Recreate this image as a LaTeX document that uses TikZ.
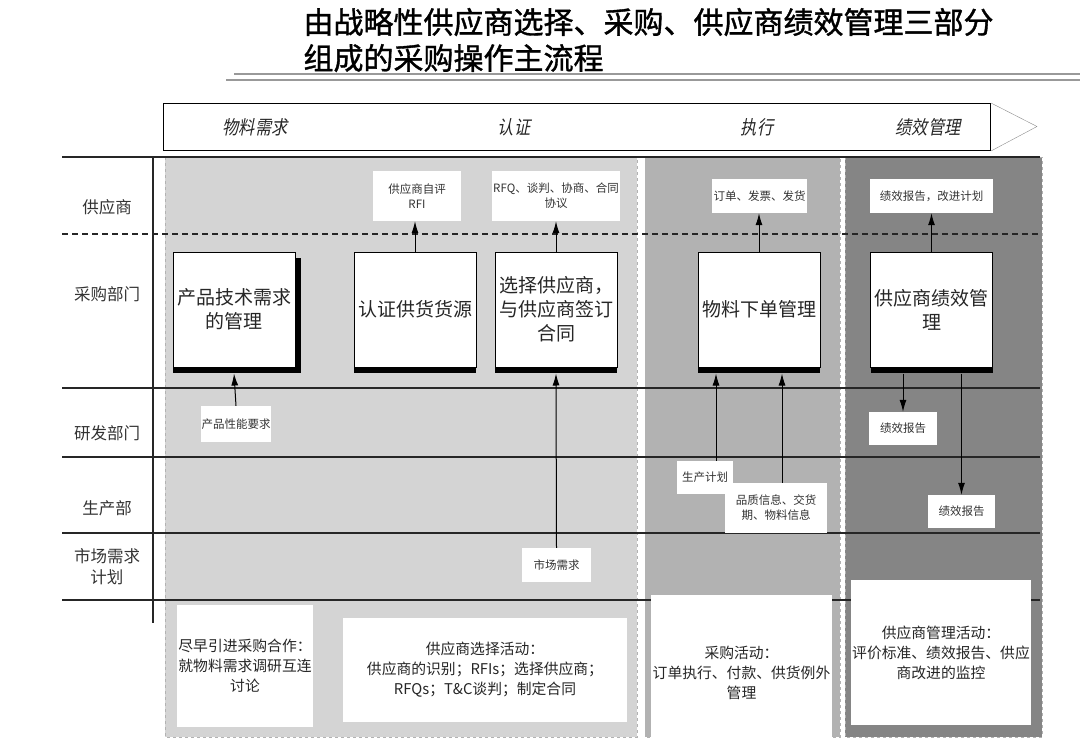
\documentclass[tikz,border=0pt]{standalone}
\usepackage{fontspec}
\setmainfont{Noto Sans CJK SC}
\newfontfamily\hdfont[FakeSlant=0.2,FakeStretch=0.85]{Noto Sans CJK SC}
\newfontfamily\titlefont[FakeBold=1.2]{Noto Sans CJK SC}
\usetikzlibrary{shadows,arrows.meta}

\begin{document}
\begin{tikzpicture}[x=1pt,y=-1pt,>={Latex[length=12pt,width=7pt]},
  proc/.style={draw,fill=white,line width=1pt,minimum width=122pt,minimum height=115pt,align=center,
    font=\fontsize{19}{24}\selectfont,text=black!85,
    drop shadow={shadow xshift=0pt,shadow yshift=-6pt,fill=black,opacity=1}},
  tag/.style={fill=white,inner sep=0pt,align=center,font=\fontsize{11.5}{15}\selectfont,text=black!80},
  note/.style={fill=white,inner sep=0pt,align=center,font=\fontsize{14.8}{20}\selectfont,text=black!85},
  lane/.style={align=center,font=\fontsize{16.5}{21}\selectfont,text=black!80},
  phase/.style={font=\hdfont\fontsize{19}{22}\selectfont,text=black!85},
  grid/.style={line width=1.2pt,black!85},
  zone/.style={draw=black!30,dashed,line width=0.7pt},
  link/.style={->,line width=1pt}]

\useasboundingbox (0,0) rectangle (1080,752);

% title
\node (title) [anchor=west,align=left,font=\titlefont\fontsize{30}{36}\selectfont] at (300,40)
  {由战略性供应商选择、采购、供应商绩效管理三部分\\组成的采购操作主流程};
\draw [black!40,line width=1.5pt] (234,74) -- (1080,74);
\draw [black!40,line width=1.5pt] (226,80) -- (1080,80);

% phase arrow
\node (hdr) [draw,line width=1pt,minimum width=827pt,minimum height=47pt,anchor=north west,inner sep=0pt] at (163,103) {};
\draw [black!45] (hdr.north east) -- (1037,126.5) -- (hdr.south east);
\node (p1) [phase] at (255,127) {物料需求};
\node (p2) [phase] at (514,127) {认证};
\node (p3) [phase] at (757,127) {执行};
\node (p4) [phase] at (928,127) {绩效管理};

% shaded phases
\fill [fill=black!17] (165,157) rectangle (637,737);
\fill [fill=black!30] (645,157) rectangle (840,737);
\fill [fill=black!48] (845,157) rectangle (1042,737);
\draw [zone] (165,157) rectangle (637,737);
\draw [zone] (645,157) rectangle (840,737);
\draw [zone] (845,157) rectangle (1042,737);

% swimlanes
\draw [grid] (62,157) -- (1040,157);
\draw [grid,dashed,dash pattern=on 6pt off 4pt] (62,234) -- (1040,234);
\draw [grid] (62,388) -- (1040,388);
\draw [grid] (62,457) -- (1040,457);
\draw [grid] (62,533) -- (1040,533);
\draw [grid] (62,600) -- (1040,600);
\draw [grid] (153,157) -- (153,623);

\node (l1) [lane] at (107,207) {供应商};
\node (l2) [lane] at (107,294) {采购部门};
\node (l3) [lane] at (107,433) {研发部门};
\node (l4) [lane] at (107,508) {生产部};
\node (l5) [lane] at (107,567) {市场需求\\计划};

% process boxes
\node (need) [proc,drop shadow={shadow xshift=6pt,shadow yshift=-6pt,fill=black,opacity=1}] at (234,309.5) {产品技术需求\\的管理};
\node (cert) [proc] at (415,309.5) {认证供货货源};
\node (select) [proc] at (556,309.5) {选择供应商，\\与供应商签订\\合同};
\node (order) [proc] at (759,309.5) {物料下单管理};
\node (perf) [proc] at (931.5,309.5) {供应商绩效管\\理};

% small labels
\node (rfi) [tag,minimum width=88pt,minimum height=50pt] at (417,196) {供应商自评\\RFI};
\node (rfq) [tag,minimum width=128pt,minimum height=50pt] at (556,196) {RFQ、谈判、协商、合同\\协议};
\node (inv) [tag,minimum width=95pt,minimum height=34pt] at (759.5,196) {订单、发票、发货};
\node (plan5) [tag,minimum width=123pt,minimum height=34pt] at (931.5,196) {绩效报告，改进计划};
\node (perfreq) [tag,minimum width=70pt,minimum height=36pt] at (236,424) {产品性能要求};
\node (mkt) [tag,minimum width=69pt,minimum height=34pt] at (556.5,565) {市场需求};
\node (plan) [tag,minimum width=56pt,minimum height=33pt] at (705,477.5) {生产计划};
\node (qual) [tag,minimum width=102pt,minimum height=50pt] at (776,508) {品质信息、交货\\期、物料信息};
\node (rep1) [tag,minimum width=68pt,minimum height=33pt] at (903,428.5) {绩效报告};
\node (rep2) [tag,minimum width=67pt,minimum height=33pt] at (961.5,511.5) {绩效报告};

% bottom notes
\node (early) [note,minimum width=136pt,minimum height=122pt] at (245,666) {尽早引进采购合作：\\就物料需求调研互连\\讨论};
\node (selact) [note,minimum width=284pt,minimum height=104pt] at (485,670) {供应商选择活动：\\供应商的识别；RFIs；选择供应商；\\RFQs；T\&C谈判；制定合同};
\node (buyact) [note,minimum width=181pt,minimum height=155pt] at (741.5,672.5) {采购活动：\\订单执行、付款、供货例外\\管理};
\node (mgmt) [note,minimum width=180pt,minimum height=145pt] at (941,652.5) {供应商管理活动：\\评价标准、绩效报告、供应\\商改进的监控};

% arrows
\draw [link] (cert.north) -- (cert.north |- rfi.south);
\draw [link] (select.north) -- (select.north |- rfq.south);
\draw [link] (order.north) -- (order.north |- inv.south);
\draw [link] (perf.north) -- (perf.north |- plan5.south);
\draw [link] (perfreq.north) -- ([yshift=-6pt]need.south);
\draw [link] (mkt.north) -- ([yshift=-6pt]select.south);
\draw [link] ([xshift=11pt]plan.north) -- ([yshift=-6pt]order.south -| 716,0);
\draw [link] ([xshift=6pt]qual.north) -- ([yshift=-6pt]order.south -| 782,0);
\draw [link] ([yshift=-6pt]perf.south -| rep1.north) -- (rep1.north);
\draw [link] ([yshift=-6pt]perf.south -| rep2.north) -- (rep2.north);

\end{tikzpicture}
\end{document}
